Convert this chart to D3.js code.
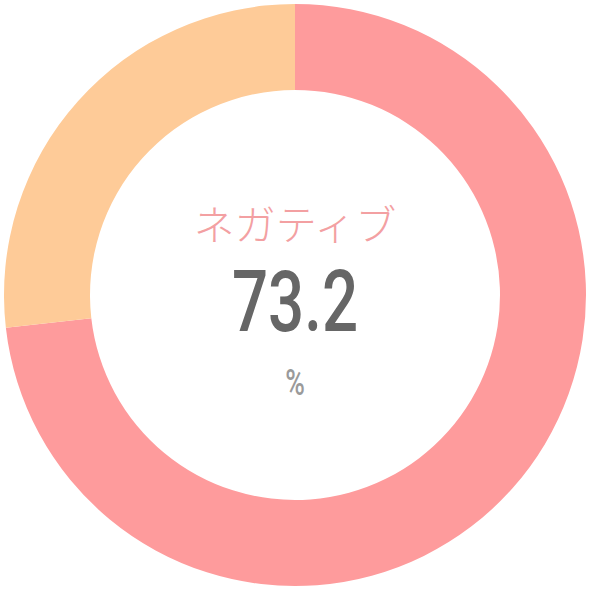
<!DOCTYPE html>
<html>
<head>
<meta charset="utf-8">
<script src="https://cdn.jsdelivr.net/npm/d3@7"></script>
<style>
  html, body { margin: 0; padding: 0; background: #fff; }
</style>
</head>
<body>
<svg id="chart"></svg>
<script>
// data
const categories = ['ネガティブ', 'ポジティブ'];
const values = [73.2, 26.8];
const colors = ['#fe9b9c', '#fecb98'];
const unit = '%';

const w = 590, h = 590;
const cx = 295, cy = 295;
const outerR = 291, innerR = 205;

const svg = d3.select('#chart')
    .attr('width', w)
    .attr('height', h);

const g = svg.append('g')
    .attr('transform', `translate(${cx},${cy})`);

// pie layout, keep data order, start at 12 o'clock
const pie = d3.pie().sort(null).value(d => d);
const arc = d3.arc().innerRadius(innerR).outerRadius(outerR);

g.selectAll('path')
    .data(pie(values))
    .join('path')
        .attr('d', arc)
        .attr('fill', (d, i) => colors[i]);

// centre labels
g.append('text')
    .attr('y', -66)
    .attr('text-anchor', 'middle')
    .attr('dominant-baseline', 'middle')
    .style('font-family', '"Noto Sans CJK JP", sans-serif')
    .style('font-weight', 300)
    .style('font-size', '41px')
    .attr('fill', '#f3a0a2')
    .text(categories[0]);

g.append('text')
    .attr('transform', 'translate(0,36) scale(0.74,1)')
    .attr('text-anchor', 'middle')
    .style('font-family', 'Roboto, sans-serif')
    .style('font-weight', 500)
    .style('font-size', '86px')
    .attr('fill', '#666')
    .text(values[0].toFixed(1));

g.append('text')
    .attr('transform', 'translate(0,100) scale(0.72,1)')
    .attr('text-anchor', 'middle')
    .style('font-family', 'Roboto, sans-serif')
    .style('font-weight', 500)
    .style('font-size', '37px')
    .attr('fill', '#9a9a9a')
    .text(unit);
</script>
</body>
</html>
